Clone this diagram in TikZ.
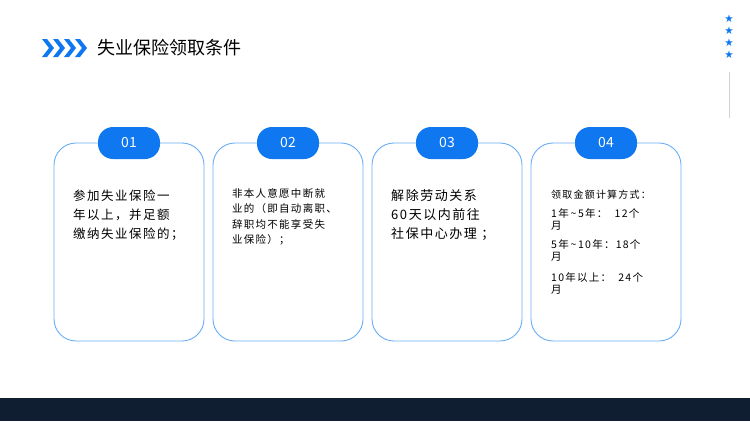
\documentclass[tikz,border=0pt]{standalone}
\usepackage{fontspec}
\setmainfont{Noto Sans CJK SC}
\newfontfamily\cjk[LetterSpace=12]{Noto Sans CJK SC}
\newfontfamily\sym{DejaVu Sans}
\definecolor{blu}{HTML}{0F77F0}
\definecolor{lblu}{HTML}{6AAEF6}
\definecolor{navy}{HTML}{0F1E30}
\begin{document}
\begin{tikzpicture}[x=1pt,y=-1pt,
  card/.style={draw=lblu,line width=0.9pt,rounded corners=22pt,fill=white},
  pill/.style={fill=blu,rounded corners=15pt,minimum width=62pt,minimum height=32pt,text=white,font=\fontsize{14}{14}\selectfont,inner sep=0pt},
  body/.style={anchor=north west,align=left,inner sep=0pt,text=black}]
\useasboundingbox (0,0) rectangle (750,421);
\fill[navy] (0,398) rectangle (750,421);
% title
\foreach \i in {0,1,2,3}{
  \fill[blu] (42+11*\i,39) -- (47+11*\i,39) -- (54+11*\i,48) -- (47+11*\i,57) -- (42+11*\i,57) -- (49+11*\i,48) -- cycle;}
\node[anchor=west,inner sep=0pt,font=\fontsize{18}{18}\selectfont] (title) at (97,48) {失业保险领取条件};
\foreach \y in {19,31,43,55}{\node[text=blu,inner sep=0pt,font=\sym\fontsize{10.5}{10.5}\selectfont] at (729,\y) {★};}
\draw[gray!35,line width=0.4pt] (729,72) -- (729,118);
% cards
\foreach \n/\x in {01/54,02/213,03/372,04/531}{
  \draw[card] (\x,143) rectangle (\x+150,341);
  \node[pill] (p\n) at (\x+75,143) {\n};}
\node[body,font=\cjk\fontsize{12.5}{19}\selectfont] (t1) at (73,190) {参加失业保险一\\年以上，并足额\\缴纳失业保险的；};
\node[body,font=\cjk\fontsize{10.5}{15.6}\selectfont] (t2) at (232,188) {非本人意愿中断就\\业的（即自动离职、\\辞职均不能享受失\\业保险）；};
\node[body,font=\cjk\fontsize{13}{19}\selectfont] (t3) at (391,189) {解除劳动关系\\60天以内前往\\社保中心办理 ；};
\node[body,font=\cjk\fontsize{10}{13}\selectfont] (t4) at (551,190) {领取金额计算方式：};
\node[body,font=\cjk\fontsize{10.5}{12.5}\selectfont] (t5) at (551,208) {1年\,\textasciitilde\,5年：\ \ 12个\\月};
\node[body,font=\cjk\fontsize{10.5}{12.5}\selectfont] (t6) at (551,239) {5年\,\textasciitilde\,10年：18个\\月};
\node[body,font=\cjk\fontsize{10.5}{12.5}\selectfont] (t7) at (551,272) {10年以上：\ \ 24个\\月};
\end{tikzpicture}
\end{document}
